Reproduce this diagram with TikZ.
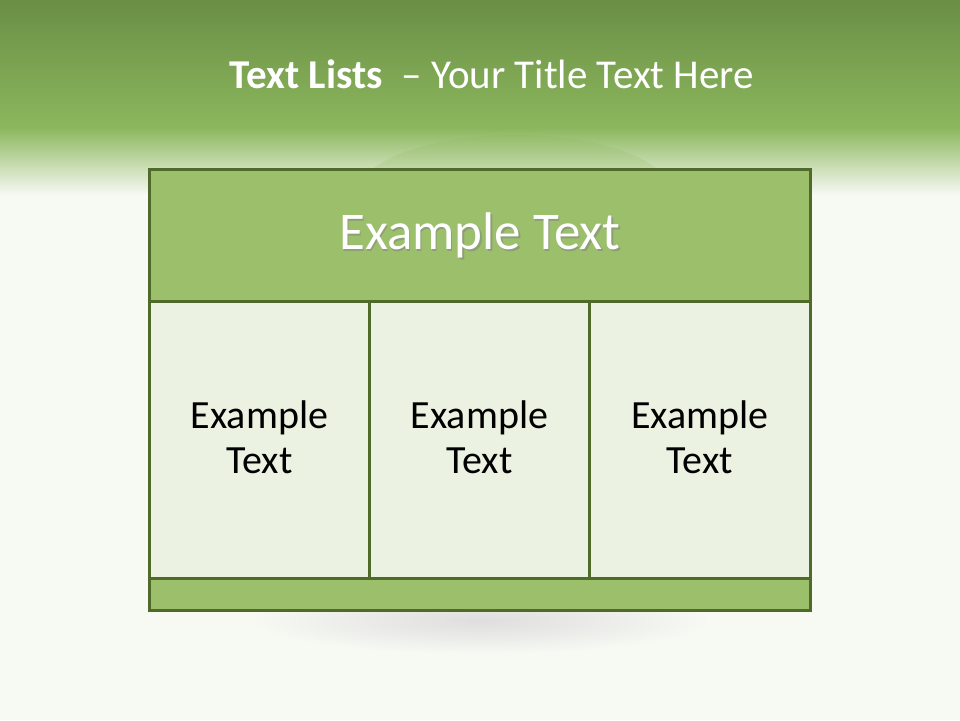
\documentclass[tikz,border=0pt]{standalone}
\usepackage{fontspec}
\setmainfont{Carlito}
\definecolor{bordergreen}{HTML}{4F6A2A}
\definecolor{headgreen}{HTML}{9BBF6A}
\definecolor{cellgreen}{HTML}{EBF2E1}
\definecolor{bgwhite}{HTML}{F7F9F3}
\definecolor{topgreen}{HTML}{6A8E45}
\definecolor{midgreen}{HTML}{8CB75D}
\tikzset{
  cellbox/.style={draw=bordergreen, line width=3pt, fill=cellgreen},
  headbox/.style={draw=bordergreen, line width=3pt, fill=headgreen},
  celltext/.style={font=\fontsize{40}{45}\selectfont, text=black, align=center},
}
\begin{document}
\begin{tikzpicture}[x=1pt,y=-1pt]
\useasboundingbox (0,0) rectangle (960,720);
% background
\fill[bgwhite] (0,0) rectangle (960,720);
\shade[top color=topgreen, bottom color=midgreen] (0,0) rectangle (960,128);
\shade[top color=midgreen, bottom color=bgwhite] (0,127.5) rectangle (960,195);
% soft shadow under the box and faint disc above it
\shade[inner color=black!13, outer color=bgwhite] (480,620) ellipse (230 and 34);
\fill[midgreen, opacity=0.18] (515,195) ellipse (158 and 60);
% box
\node[headbox, minimum width=661pt, minimum height=132pt, anchor=north west, inner sep=0] (head) at (148,168) {};
\node[cellbox, minimum width=220pt, minimum height=277pt, anchor=north west, inner sep=0] (c1) at (148,300) {};
\node[cellbox, minimum width=220pt, minimum height=277pt, anchor=north west, inner sep=0] (c2) at (368,300) {};
\node[cellbox, minimum width=221pt, minimum height=277pt, anchor=north west, inner sep=0] (c3) at (588,300) {};
\node[headbox, minimum width=661pt, minimum height=32pt, anchor=north west, inner sep=0] (foot) at (148,577) {};
% header text
\node[font=\fontsize{53}{56}\selectfont, text=black!50, opacity=0.5] at ([xshift=1.5pt,yshift=-1.5pt]head.center) {Example Text};
\node[font=\fontsize{53}{56}\selectfont, text=white] (headtext) at (head.center) {Example Text};
\node[celltext] (t1) at ([yshift=3pt]c1.center) {Example\\Text};
\node[celltext] (t2) at ([yshift=3pt]c2.center) {Example\\Text};
\node[celltext] (t3) at ([yshift=3pt]c3.center) {Example\\Text};
% title
\node[font=\fontsize{41}{44}\selectfont, text=white, anchor=base] (title) at (492,88) {\textbf{Text Lists} \ – Your Title Text Here};
\end{tikzpicture}
\end{document}
